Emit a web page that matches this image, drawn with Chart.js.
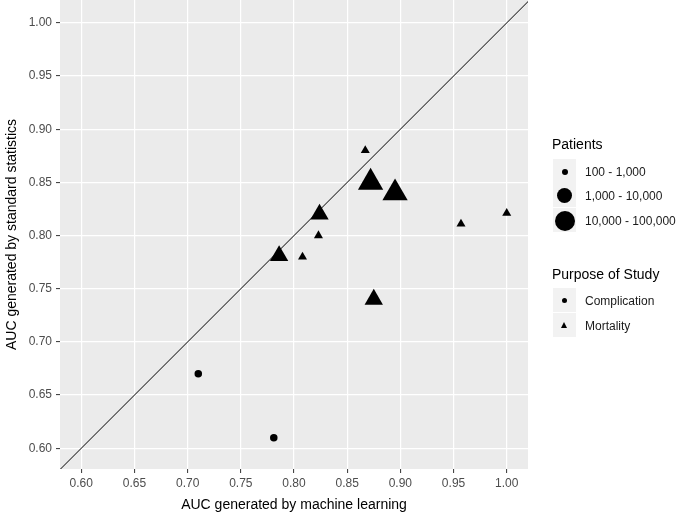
<!DOCTYPE html>
<html>
<head>
<meta charset="utf-8">
<script src="https://cdn.jsdelivr.net/npm/chart.js@4.4.0/dist/chart.umd.min.js"></script>
<style>
  html, body { margin: 0; padding: 0; background: #fff; }
  #wrap { position: relative; width: 685px; height: 516px; font-family: "Liberation Sans", Arial, sans-serif; }
  #myChart { position: absolute; left: 0; top: 0; }
  .leg-title { position: absolute; font-size: 14px; color: #000; white-space: nowrap; line-height: 16px; }
  .leg-key { position: absolute; width: 23px; height: 24px; background: #f2f2f2; }
  .leg-dot { position: absolute; background: #000; border-radius: 50%; }
  .leg-tri { position: absolute; width: 0; height: 0; border-left: 3.5px solid transparent; border-right: 3.5px solid transparent; border-bottom: 6px solid #000; }
  .leg-label { position: absolute; font-size: 12px; color: #1a1a1a; white-space: nowrap; line-height: 14px; }
</style>
</head>
<body>
<div id="wrap">
  <canvas id="myChart" width="685" height="516"></canvas>
</div>
<script>
// Datos
const mlAuc   = [0.710, 0.781, 0.867, 0.872, 0.895, 0.824, 0.823, 0.957, 1.000, 0.786, 0.808, 0.875];
const statAuc = [0.670, 0.610, 0.880, 0.850, 0.840, 0.820, 0.800, 0.811, 0.821, 0.781, 0.780, 0.740];
// 0 = 100-1,000 ; 1 = 1,000-10,000 ; 2 = 10,000-100,000
const patientGroup = [0, 0, 0, 2, 2, 1, 0, 0, 0, 1, 0, 1];
const purpose = ["Complication", "Complication", "Mortality", "Mortality", "Mortality", "Mortality",
                 "Mortality", "Mortality", "Mortality", "Mortality", "Mortality", "Mortality"];

const patientLabels = ["100 - 1,000", "1,000 - 10,000", "10,000 - 100,000"];
const purposeLabels = ["Complication", "Mortality"];
const tickVals = [0.60, 0.65, 0.70, 0.75, 0.80, 0.85, 0.90, 0.95, 1.00];
const diagonal = [0.5, 1.1];

// radios segun grupo de pacientes
const triRadius = [5.2, 10.6, 14.6];
const dotRadius = [3.7, 7.5, 10];

function puntos(tipo) {
    let datos = [];
    let grupos = [];
    for (let i = 0; i < mlAuc.length; i++) {
        if (purpose[i] === tipo) {
            datos.push({x: mlAuc[i], y: statAuc[i]});
            grupos.push(patientGroup[i]);
        }
    }
    return {datos, grupos};
}

const compl = puntos("Complication");
const mort = puntos("Mortality");

// fondo gris del panel
const panelFondo = {
    id: "panelFondo",
    beforeDraw(chart) {
        const {ctx, chartArea: a} = chart;
        ctx.save();
        ctx.fillStyle = "#ebebeb";
        ctx.fillRect(a.left, a.top, a.right - a.left, a.bottom - a.top);
        ctx.restore();
    }
};

const fuente = "'Liberation Sans', Arial, sans-serif";

function ejes(titulo, min, max, esY) {
    return {
        type: "linear",
        min: min,
        max: max,
        afterBuildTicks: s => { s.ticks = tickVals.map(v => ({value: v})); },
        afterFit: s => {
            if (esY) s.width = 60; else s.height = 47;
            s.paddingTop = 0; s.paddingBottom = 0;
            s.paddingLeft = 0; s.paddingRight = 0;
        },
        ticks: {
            color: "#4d4d4d",
            font: {family: fuente, size: 12},
            padding: esY ? 4 : 3,
            callback: v => Number(v).toFixed(2),
            maxRotation: 0,
            autoSkip: false
        },
        grid: {color: "#ffffff", lineWidth: 1.2, tickColor: "#333333", tickLength: 4, tickWidth: 1},
        border: {display: false},
        title: {
            display: true,
            text: titulo,
            color: "#000000",
            font: {family: fuente, size: 14},
            padding: esY ? {top: 4, bottom: 0} : {top: 0, bottom: 2}
        }
    };
}

let grafica = new Chart(document.getElementById("myChart"), {
    type: "scatter",
    data: {
        datasets: [
            {
                label: "Complication",
                data: compl.datos,
                pointStyle: "circle",
                pointRadius: c => dotRadius[compl.grupos[c.dataIndex]] * 0.5 + 1.9,
                backgroundColor: "#000",
                borderWidth: 0
            },
            {
                label: "Mortality",
                data: mort.datos,
                pointStyle: "triangle",
                pointRadius: c => triRadius[mort.grupos[c.dataIndex]],
                backgroundColor: "#000",
                borderWidth: 0
            },
            {
                type: "line",
                label: "y = x",
                data: diagonal.map(v => ({x: v, y: v})),
                borderColor: "#000000",
                borderWidth: 1,
                pointRadius: 0,
                fill: false,
                clip: 0
            }
        ]
    },
    options: {
        responsive: false,
        animation: false,
        layout: {autoPadding: false, padding: {left: 0, right: 157, top: 0, bottom: 0}},
        plugins: {legend: {display: false}, tooltip: {enabled: false}},
        scales: {
            x: ejes("AUC generated by machine learning", 0.58, 1.02, false),
            y: ejes("AUC generated by standard statistics", 0.5805, 1.0215, true)
        }
    },
    plugins: [panelFondo]
});

// Leyendas en HTML
const wrap = document.getElementById("wrap");
function div(cls, estilos, texto) {
    let d = document.createElement("div");
    d.className = cls;
    Object.assign(d.style, estilos);
    if (texto) d.textContent = texto;
    wrap.appendChild(d);
    return d;
}

div("leg-title", {left: "552px", top: "136px"}, "Patients");
const keyTops = [159, 183, 208];
const legDiam = [6, 15, 20];
patientLabels.forEach((lab, i) => {
    div("leg-key", {left: "553px", top: keyTops[i] + "px"});
    const cy = keyTops[i] + 12.5;
    div("leg-dot", {left: (564.5 - legDiam[i] / 2) + "px", top: (cy - legDiam[i] / 2) + "px",
                    width: legDiam[i] + "px", height: legDiam[i] + "px"});
    div("leg-label", {left: "585px", top: (cy - 7) + "px"}, lab);
});

div("leg-title", {left: "552px", top: "266px"}, "Purpose of Study");
const keyTops2 = [288, 313];
purposeLabels.forEach((lab, i) => {
    div("leg-key", {left: "553px", top: keyTops2[i] + "px"});
    const cy = keyTops2[i] + 12.5;
    if (i === 0) {
        div("leg-dot", {left: "562px", top: (cy - 2.5) + "px", width: "5px", height: "5px"});
    } else {
        div("leg-tri", {left: "561px", top: (cy - 3.5) + "px"});
    }
    div("leg-label", {left: "585px", top: (cy - 7) + "px"}, lab);
});
</script>
</body>
</html>
